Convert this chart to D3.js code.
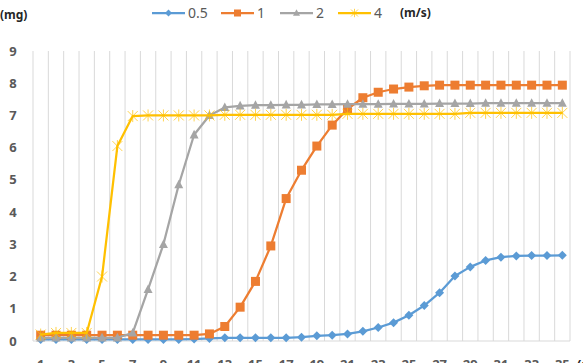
<!DOCTYPE html>
<html>
<head>
<meta charset="utf-8">
<script src="https://cdn.jsdelivr.net/npm/d3@7"></script>
<style>
  body { margin: 0; background: #fff; }
  svg { display: block; font-family: "Noto Sans", "Open Sans", sans-serif; }
</style>
</head>
<body>
<div id="chart"></div>
<script>
const categories = [1, 2, 3, 4, 5, 6, 7, 8, 9, 10, 11, 12, 13, 14, 15, 16, 17, 18,
                    19, 20, 21, 22, 23, 24, 25, 26, 27, 28, 29, 30, 31, 32, 33, 34, 35];

const series05 = [0.05, 0.05, 0.05, 0.05, 0.05, 0.05, 0.05, 0.05, 0.05, 0.05, 0.06, 0.08,
                  0.1, 0.1, 0.1, 0.1, 0.1, 0.12, 0.16, 0.18, 0.22, 0.3, 0.42, 0.57, 0.8,
                  1.1, 1.5, 2.02, 2.3, 2.5, 2.6, 2.64, 2.65, 2.65, 2.66];
const series1 = [0.18, 0.18, 0.18, 0.18, 0.18, 0.18, 0.18, 0.18, 0.18, 0.18, 0.18, 0.22,
                 0.45, 1.05, 1.85, 2.95, 4.42, 5.3, 6.05, 6.7, 7.2, 7.55, 7.72, 7.82, 7.88,
                 7.92, 7.94, 7.94, 7.94, 7.94, 7.94, 7.94, 7.94, 7.94, 7.94];
const series2 = [0.1, 0.1, 0.1, 0.1, 0.1, 0.1, 0.25, 1.6, 3.0, 4.85, 6.4, 7.0, 7.25, 7.3,
                 7.32, 7.32, 7.33, 7.33, 7.34, 7.34, 7.35, 7.35, 7.35, 7.36, 7.36, 7.36,
                 7.37, 7.37, 7.37, 7.38, 7.38, 7.38, 7.38, 7.38, 7.38];
const series4 = [0.2, 0.25, 0.25, 0.25, 2.0, 6.05, 6.98, 7.0, 7.0, 7.0, 7.0, 7.0, 7.02,
                 7.02, 7.02, 7.02, 7.02, 7.02, 7.02, 7.02, 7.05, 7.05, 7.05, 7.05, 7.05,
                 7.05, 7.05, 7.05, 7.08, 7.08, 7.08, 7.08, 7.08, 7.08, 7.08];

const seriesNames = ['0.5', '1', '2', '4'];
const yTicks = [0, 1, 2, 3, 4, 5, 6, 7, 8, 9];
const xTickLabels = [1, 3, 5, 7, 9, 11, 13, 15, 17, 19, 21, 23, 25, 27, 29, 31, 33, 35];

const width = 583,
      height = 363,
      margin = {top: 51, left: 33, bottom: 22, right: 13};

const colors = ['#5B9BD5', '#ED7D31', '#A5A5A5', '#FFC000'],
      markers = ['diamond', 'square', 'triangle', 'star'];

const svg = d3.select('#chart')
  .append('svg')
  .attr('width', width)
  .attr('height', height);

const x = d3.scaleBand()
  .domain(categories)
  .range([margin.left, width - margin.right])
  .paddingInner(0)
  .paddingOuter(0);

const y = d3.scaleLinear()
  .domain([0, 9])
  .range([height - margin.bottom, margin.top]);

const cx = (c) => x(c) + x.bandwidth() / 2;

// vertical gridlines on category boundaries
const edges = categories.map((c) => x(c)).concat([x(categories[categories.length - 1]) + x.bandwidth()]);
svg.append('g')
  .selectAll('line')
  .data(edges)
  .enter()
  .append('line')
  .attr('x1', (d) => d)
  .attr('x2', (d) => d)
  .attr('y1', y(9))
  .attr('y2', y(0))
  .attr('stroke', '#d9d9d9')
  .attr('stroke-width', 1);

// bottom axis line
svg.append('line')
  .attr('x1', x.range()[0])
  .attr('x2', x.range()[1])
  .attr('y1', y(0))
  .attr('y2', y(0))
  .attr('stroke', '#d9d9d9');

// y tick labels
svg.append('g')
  .selectAll('text')
  .data(yTicks)
  .enter()
  .append('text')
  .attr('x', 13)
  .attr('y', (d) => y(d))
  .attr('dy', '0.35em')
  .attr('text-anchor', 'middle')
  .attr('font-size', 13)
  .attr('font-weight', 'bold')
  .attr('fill', '#595959')
  .text((d) => d);

// x tick labels (cut off by the bottom edge, as in the original)
svg.append('g')
  .selectAll('text')
  .data(xTickLabels)
  .enter()
  .append('text')
  .attr('x', (d) => cx(d))
  .attr('y', 368.5)
  .attr('text-anchor', 'middle')
  .attr('font-size', 13)
  .attr('font-weight', 'bold')
  .attr('fill', '#595959')
  .text((d) => d);

svg.append('text')
  .attr('x', 577)
  .attr('y', 368.5)
  .attr('font-size', 13)
  .attr('font-weight', 'bold')
  .attr('fill', '#262626')
  .text('(min)');

svg.append('text')
  .attr('x', 0)
  .attr('y', 19)
  .attr('font-size', 12)
  .attr('font-weight', 'bold')
  .attr('fill', '#262626')
  .text('(mg)');

function drawMarker(g, type, color, size) {
  const s = size;
  if (type === 'diamond') {
    g.append('path')
      .attr('d', `M0,${-s}L${s},0L0,${s}L${-s},0Z`)
      .attr('fill', color);
  } else if (type === 'square') {
    g.append('rect')
      .attr('x', -s).attr('y', -s)
      .attr('width', 2 * s).attr('height', 2 * s)
      .attr('fill', color);
  } else if (type === 'triangle') {
    g.append('path')
      .attr('d', `M0,${-s * 1.1}L${s},${s * 0.8}L${-s},${s * 0.8}Z`)
      .attr('fill', color);
  } else {
    g.append('path')
      .attr('d', `M${-s},${-s}L${s},${s}M${-s},${s}L${s},${-s}M0,${-s * 1.2}L0,${s * 1.2}`)
      .attr('stroke', color)
      .attr('stroke-width', 1)
      .attr('stroke-opacity', 0.7)
      .attr('fill', 'none');
  }
}

const allSeries = [series05, series1, series2, series4];
const markerSize = [4.5, 4.5, 4.5, 5];

const line = d3.line()
  .x((d, i) => cx(categories[i]))
  .y((d) => y(d));

allSeries.forEach((values, k) => {
  const g = svg.append('g');
  g.append('path')
    .datum(values)
    .attr('d', line)
    .attr('fill', 'none')
    .attr('stroke', colors[k])
    .attr('stroke-width', 2.25)
    .attr('stroke-linejoin', 'round');

  values.forEach((v, i) => {
    const m = g.append('g')
      .attr('transform', `translate(${cx(categories[i])},${y(v)})`);
    drawMarker(m, markers[k], colors[k], markerSize[k]);
  });
});

// legend
const legendX = [152, 221, 280, 338];
const legend = svg.append('g');
seriesNames.forEach((name, k) => {
  const lg = legend.append('g')
    .attr('transform', `translate(${legendX[k]},13)`);
  lg.append('line')
    .attr('x1', 0).attr('x2', 33)
    .attr('stroke', colors[k])
    .attr('stroke-width', 2.25);
  const m = lg.append('g').attr('transform', 'translate(16.5,0)');
  drawMarker(m, markers[k], colors[k], k === 3 ? 3.5 : 3.5);
  lg.append('text')
    .attr('x', 36)
    .attr('dy', '0.35em')
    .attr('font-size', 14)
    .attr('fill', '#595959')
    .text(name);
});

svg.append('text')
  .attr('x', 400)
  .attr('y', 13)
  .attr('dy', '0.35em')
  .attr('font-size', 12)
  .attr('font-weight', 'bold')
  .attr('fill', '#262626')
  .text('(m/s)');
</script>
</body>
</html>
